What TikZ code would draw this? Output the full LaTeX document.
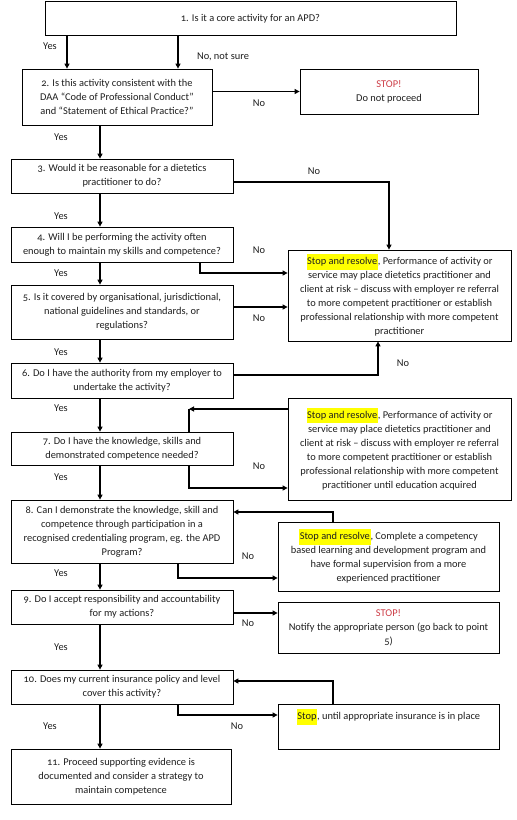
\documentclass[tikz,border=0pt]{standalone}
\usepackage{fontspec}
\setmainfont{Carlito}[Numbers=OldStyle]
\usetikzlibrary{arrows.meta}
\definecolor{stopred}{RGB}{205,60,70}
\definecolor{hly}{RGB}{255,255,0}
\newcommand\hlt[1]{{\setlength{\fboxsep}{0.6pt}\colorbox{hly}{\strut #1}}}
\tikzset{
  box/.style={draw=black, line width=0.8pt, inner sep=0pt, align=center,
    font=\fontsize{10.4}{14}\selectfont, text=black!88},
  lbl/.style={font=\fontsize{10.4}{14}\selectfont, text=black!88, inner sep=0pt},
  arr/.style={line width=1.1pt, -{Triangle[length=5pt,width=5pt]}},
  ln/.style={line width=1.1pt}
}
\begin{document}
\begin{tikzpicture}[x=1pt,y=-1pt]
\useasboundingbox (0,0) rectangle (517,820);
\fill[white] (0,0) rectangle (517,820);
% boxes
\node[box, minimum width=411pt, minimum height=34pt] (b1) at (250.5,18.3) {1. Is it a core activity for an APD?};
\node[box, minimum width=190pt, minimum height=56pt] (b2) at (117,97) {2. Is this activity consistent with the\\DAA “Code of Professional Conduct”\\and “Statement of Ethical Practice?”};
\node[box, minimum width=178pt, minimum height=45pt] (s1) at (389,91.5) {\textcolor{stopred}{STOP!}\\Do not proceed};
\node[box, minimum width=222pt, minimum height=34pt] (b3) at (122,176) {3. Would it be reasonable for a dietetics\\practitioner to do?};
\node[box, minimum width=222pt, minimum height=35pt] (b4) at (122,244.5) {4. Will I be performing the activity often\\enough to maintain my skills and competence?};
\node[box, minimum width=223pt, minimum height=91pt] (r1) at (399.5,295.5) {\hlt{Stop and resolve}, Performance of activity or\\service may place dietetics practitioner and\\client at risk – discuss with employer re referral\\to more competent practitioner or establish\\professional relationship with more competent\\practitioner};
\node[box, minimum width=222pt, minimum height=54pt] (b5) at (122,312) {5. Is it covered by organisational, jurisdictional,\\national guidelines and standards, or\\regulations?};
\node[box, minimum width=222pt, minimum height=35pt] (b6) at (122,380.5) {6. Do I have the authority from my employer to\\undertake the activity?};
\node[box, minimum width=223pt, minimum height=102pt] (r2) at (399.5,449) {\hlt{Stop and resolve}, Performance of activity or\\service may place dietetics practitioner and\\client at risk – discuss with employer re referral\\to more competent practitioner or establish\\professional relationship with more competent\\practitioner until education acquired};
\node[box, minimum width=222pt, minimum height=33pt] (b7) at (122,448.5) {7. Do I have the knowledge, skills and\\demonstrated competence needed?};
\node[box, minimum width=222pt, minimum height=63pt] (b8) at (122,531.5) {8. Can I demonstrate the knowledge, skill and\\competence through participation in a\\recognised credentialing program, eg. the APD\\Program?};
\node[box, minimum width=221pt, minimum height=69pt] (r3) at (388.5,556.5) {\hlt{Stop and resolve}, Complete a competency\\based learning and development program and\\have formal supervision from a more\\experienced practitioner};
\node[box, minimum width=222pt, minimum height=34pt] (b9) at (122,607) {9. Do I accept responsibility and accountability\\for my actions?};
\node[box, minimum width=221pt, minimum height=51pt] (s2) at (388.5,627.5) {\textcolor{stopred}{STOP!}\\Notify the appropriate person (go back to point\\5)};
\node[box, minimum width=221pt, minimum height=45pt] (s3) at (388.5,726.5) {\hlt{Stop}, until appropriate insurance is in place\\[10pt]\mbox{}};
\node[box, minimum width=220pt, minimum height=55pt] (b11) at (121,776.5) {11. Proceed supporting evidence is\\documented and consider a strategy to\\maintain competence};
\node[box, minimum width=222pt, minimum height=34pt] (b10) at (122,687) {10. Does my current insurance policy and level\\cover this activity?};
% guide coordinates
\coordinate (xa) at (67,0);
\coordinate (xb) at (178,0);
\coordinate (xc) at (100,0);
\coordinate (xd) at (389,0);
\coordinate (xe) at (200,0);
\coordinate (xf) at (378,0);
\coordinate (xh) at (333,0);
\coordinate (k7) at (189,409);
\coordinate (y182) at (0,182);
\coordinate (y273) at (0,273);
\coordinate (y307) at (0,307);
\coordinate (y375) at (0,375);
\coordinate (y488) at (0,488);
\coordinate (y512) at (0,512);
\coordinate (y578) at (0,578);
\coordinate (y613) at (0,613);
\coordinate (y681) at (0,681);
\coordinate (y715) at (0,715);
% connectors
\draw[arr] (b1.south -| xa) -- (b2.north -| xa);
\draw[arr] (b1.south -| xb) -- (b2.north -| xb);
\draw[arr] (b2.east |- s1.west) -- (s1.west);
\draw[arr] (b2.south -| xc) -- (b3.north -| xc);
\draw[arr] (b3.east |- y182) -| (r1.north -| xd);
\draw[arr] (b3.south -| xc) -- (b4.north -| xc);
\draw[arr] (b4.south -| xe) |- (r1.west |- y273);
\draw[arr] (b4.south -| xc) -- (b5.north -| xc);
\draw[arr] (b5.east |- y307) -- (r1.west |- y307);
\draw[arr] (b5.south -| xc) -- (b6.north -| xc);
\draw[arr] (b6.east |- y375) -| (r1.south -| xf);
\draw[arr] (b6.south -| xc) -- (b7.north -| xc);
\draw[arr] (r2.west |- k7) -- (k7);
\draw[ln] (k7) -- (b7.north -| k7);
\draw[arr] (b7.south -| k7) |- (r2.west |- y488);
\draw[arr] (b7.south -| xc) -- (b8.north -| xc);
\draw[arr] (r3.north -| xh) |- (b8.east |- y512);
\draw[arr] (b8.south -| xb) |- (r3.west |- y578);
\draw[arr] (b8.south -| xc) -- (b9.north -| xc);
\draw[arr] (b9.east |- y613) -- (s2.west |- y613);
\draw[arr] (b9.south -| xc) -- (b10.north -| xc);
\draw[arr] (s3.north -| xh) |- (b10.east |- y681);
\draw[arr] (b10.south -| xb) |- (s3.west |- y715);
\draw[arr] (b10.south -| xc) -- (b11.north -| xc);
% labels
\node[lbl] (l1) at (50,46) {Yes};
\node[lbl] (l2) at (223,57) {No, not sure};
\node[lbl] (l3) at (259,103) {No};
\node[lbl] (l4) at (61,137) {Yes};
\node[lbl] (l5) at (314,171) {No};
\node[lbl] (l6) at (61,216) {Yes};
\node[lbl] (l7) at (259,250) {No};
\node[lbl] (l8) at (61,273) {Yes};
\node[lbl] (l9) at (259,318) {No};
\node[lbl] (l10) at (61,352) {Yes};
\node[lbl] (l11) at (403,363) {No};
\node[lbl] (l12) at (61,408) {Yes};
\node[lbl] (l13) at (259,466) {No};
\node[lbl] (l14) at (61,477) {Yes};
\node[lbl] (l15) at (248,556) {No};
\node[lbl] (l16) at (61,573) {Yes};
\node[lbl] (l17) at (248,623) {No};
\node[lbl] (l18) at (61,647) {Yes};
\node[lbl] (l19) at (237,726) {No};
\node[lbl] (l20) at (50,726) {Yes};
\end{tikzpicture}
\end{document}
